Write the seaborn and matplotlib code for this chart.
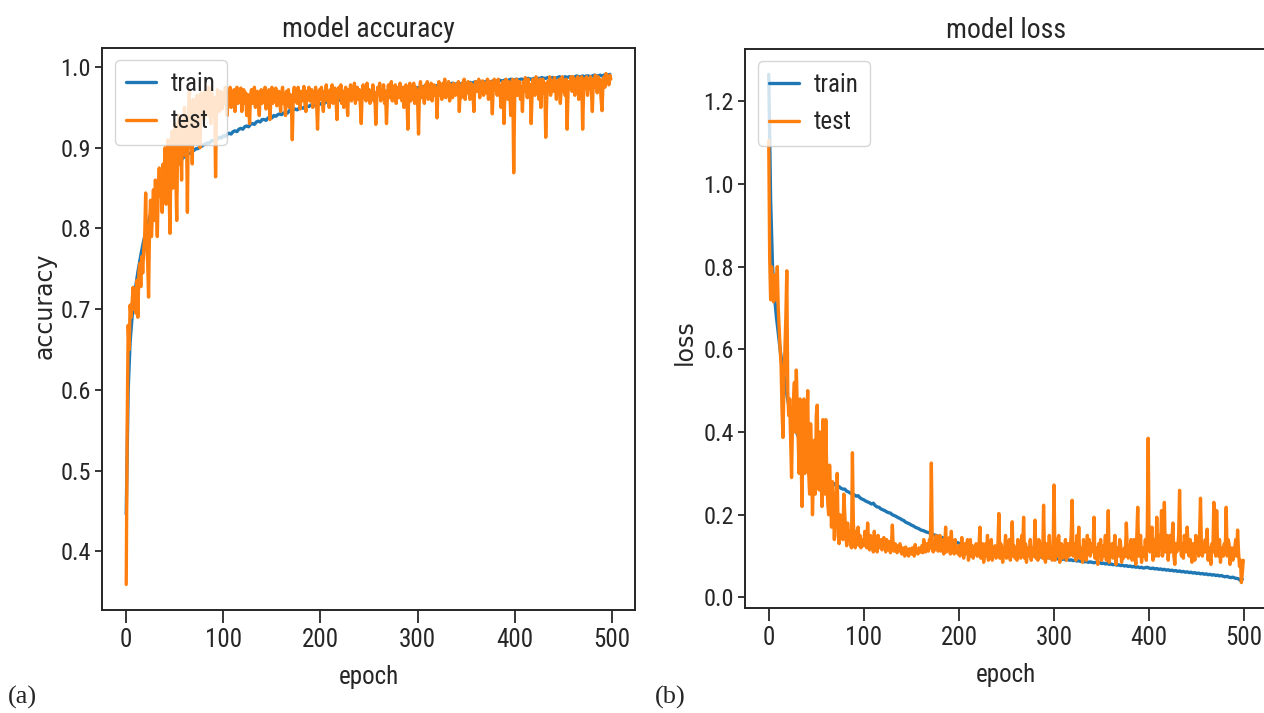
import matplotlib
matplotlib.use("Agg")
import matplotlib.pyplot as plt
import pandas as pd
import seaborn as sns

# Training history: train curves logged every second epoch, test curves every epoch
epochs_train = list(range(0, 500, 2))
epochs_test = list(range(0, 500))

acc_train = [
    0.446, 0.600, 0.660, 0.690, 0.712, 0.730, 0.746, 0.760, 0.773, 0.785,
    0.795, 0.806, 0.813, 0.823, 0.829, 0.838, 0.842, 0.849, 0.853, 0.858,
    0.861, 0.866, 0.868, 0.872, 0.874, 0.878, 0.879, 0.883, 0.884, 0.887,
    0.889, 0.890, 0.893, 0.893, 0.896, 0.897, 0.899, 0.899, 0.902, 0.902,
    0.904, 0.905, 0.906, 0.906, 0.909, 0.908, 0.911, 0.911, 0.913, 0.912,
    0.915, 0.914, 0.917, 0.918, 0.917, 0.920, 0.921, 0.920, 0.923, 0.924,
    0.923, 0.926, 0.927, 0.926, 0.929, 0.930, 0.929, 0.932, 0.933, 0.932,
    0.935, 0.935, 0.934, 0.937, 0.938, 0.937, 0.940, 0.939, 0.941, 0.942,
    0.941, 0.943, 0.944, 0.943, 0.946, 0.945, 0.947, 0.948, 0.947, 0.949,
    0.950, 0.949, 0.951, 0.952, 0.951, 0.953, 0.953, 0.952, 0.954, 0.955,
    0.954, 0.956, 0.955, 0.957, 0.957, 0.956, 0.958, 0.959, 0.958, 0.960,
    0.959, 0.960, 0.961, 0.960, 0.962, 0.961, 0.963, 0.962, 0.964, 0.963,
    0.964, 0.965, 0.964, 0.966, 0.965, 0.966, 0.967, 0.966, 0.968, 0.967,
    0.968, 0.969, 0.968, 0.969, 0.970, 0.969, 0.970, 0.971, 0.970, 0.971,
    0.972, 0.971, 0.972, 0.973, 0.972, 0.973, 0.974, 0.973, 0.974, 0.975,
    0.974, 0.975, 0.974, 0.976, 0.975, 0.976, 0.977, 0.976, 0.977, 0.976,
    0.977, 0.978, 0.977, 0.978, 0.979, 0.978, 0.978, 0.979, 0.980, 0.979,
    0.979, 0.980, 0.979, 0.980, 0.981, 0.980, 0.980, 0.981, 0.980, 0.981,
    0.982, 0.981, 0.981, 0.982, 0.981, 0.982, 0.983, 0.982, 0.982, 0.983,
    0.982, 0.983, 0.984, 0.983, 0.983, 0.984, 0.983, 0.984, 0.985, 0.984,
    0.984, 0.985, 0.984, 0.985, 0.985, 0.984, 0.985, 0.986, 0.985, 0.985,
    0.986, 0.985, 0.986, 0.986, 0.987, 0.986, 0.986, 0.987, 0.986, 0.987,
    0.987, 0.986, 0.987, 0.988, 0.987, 0.987, 0.988, 0.987, 0.988, 0.988,
    0.987, 0.988, 0.989, 0.988, 0.988, 0.989, 0.988, 0.989, 0.989, 0.988,
    0.989, 0.990, 0.989, 0.989, 0.990, 0.989, 0.990, 0.991, 0.990, 0.991,
]

acc_test = [
    0.359, 0.560, 0.680, 0.650, 0.705, 0.690, 0.707, 0.727, 0.700, 0.718,
    0.695, 0.736, 0.690, 0.745, 0.757, 0.728, 0.765, 0.745, 0.773, 0.790,
    0.844, 0.780, 0.760, 0.715, 0.800, 0.835, 0.790, 0.820, 0.848, 0.810,
    0.860, 0.830, 0.790, 0.850, 0.875, 0.840, 0.862, 0.820, 0.880, 0.850,
    0.900, 0.830, 0.870, 0.910, 0.860, 0.794, 0.880, 0.920, 0.850, 0.895,
    0.930, 0.870, 0.810, 0.905, 0.940, 0.880, 0.915, 0.860, 0.935, 0.900,
    0.950, 0.890, 0.925, 0.820, 0.940, 0.969, 0.900, 0.945, 0.880, 0.960,
    0.920, 0.955, 0.905, 0.965, 0.935, 0.950, 0.900, 0.968, 0.940, 0.960,
    0.935, 0.970, 0.950, 0.965, 0.940, 0.975, 0.955, 0.930, 0.968, 0.950,
    0.940, 0.962, 0.864, 0.950, 0.972, 0.958, 0.945, 0.970, 0.960, 0.948,
    0.968, 0.955, 0.975, 0.960, 0.940, 0.970, 0.962, 0.975, 0.950, 0.966,
    0.958, 0.972, 0.945, 0.965, 0.975, 0.955, 0.968, 0.960, 0.974, 0.945,
    0.962, 0.972, 0.955, 0.968, 0.940, 0.966, 0.958, 0.930, 0.965, 0.972,
    0.955, 0.968, 0.975, 0.950, 0.962, 0.970, 0.958, 0.940, 0.968, 0.972,
    0.955, 0.970, 0.962, 0.975, 0.948, 0.966, 0.958, 0.972, 0.935, 0.962,
    0.975, 0.955, 0.968, 0.960, 0.974, 0.952, 0.966, 0.970, 0.958, 0.945,
    0.968, 0.975, 0.955, 0.965, 0.940, 0.970, 0.960, 0.972, 0.950, 0.966,
    0.958, 0.910, 0.962, 0.975, 0.958, 0.968, 0.955, 0.975, 0.962, 0.948,
    0.970, 0.958, 0.968, 0.976, 0.955, 0.945, 0.970, 0.962, 0.975, 0.958,
    0.966, 0.972, 0.950, 0.968, 0.960, 0.975, 0.955, 0.923, 0.965, 0.972,
    0.960, 0.975, 0.958, 0.945, 0.970, 0.965, 0.978, 0.958, 0.968, 0.950,
    0.972, 0.962, 0.978, 0.955, 0.966, 0.974, 0.960, 0.935, 0.970, 0.975,
    0.962, 0.978, 0.955, 0.970, 0.950, 0.968, 0.975, 0.962, 0.940, 0.972,
    0.965, 0.978, 0.958, 0.970, 0.962, 0.980, 0.955, 0.968, 0.975, 0.960,
    0.972, 0.955, 0.930, 0.968, 0.978, 0.962, 0.975, 0.958, 0.980, 0.965,
    0.972, 0.955, 0.970, 0.962, 0.978, 0.958, 0.968, 0.929, 0.962, 0.975,
    0.968, 0.980, 0.958, 0.972, 0.962, 0.978, 0.955, 0.970, 0.930, 0.965,
    0.978, 0.962, 0.972, 0.982, 0.958, 0.970, 0.965, 0.978, 0.955, 0.972,
    0.975, 0.962, 0.980, 0.968, 0.958, 0.975, 0.950, 0.970, 0.978, 0.962,
    0.923, 0.968, 0.980, 0.958, 0.972, 0.965, 0.980, 0.955, 0.975, 0.968,
    0.960, 0.917, 0.970, 0.982, 0.962, 0.975, 0.968, 0.955, 0.978, 0.970,
    0.982, 0.960, 0.975, 0.965, 0.980, 0.958, 0.972, 0.978, 0.965, 0.975,
    0.937, 0.970, 0.982, 0.965, 0.975, 0.960, 0.980, 0.970, 0.985, 0.962,
    0.975, 0.968, 0.982, 0.958, 0.978, 0.970, 0.962, 0.980, 0.972, 0.965,
    0.978, 0.968, 0.982, 0.945, 0.975, 0.962, 0.980, 0.970, 0.985, 0.960,
    0.978, 0.968, 0.982, 0.972, 0.960, 0.980, 0.975, 0.968, 0.945, 0.978,
    0.982, 0.970, 0.975, 0.985, 0.962, 0.978, 0.970, 0.983, 0.965, 0.975,
    0.980, 0.968, 0.985, 0.960, 0.975, 0.982, 0.970, 0.942, 0.978, 0.985,
    0.972, 0.980, 0.965, 0.985, 0.975, 0.968, 0.950, 0.978, 0.982, 0.930,
    0.970, 0.985, 0.975, 0.960, 0.982, 0.968, 0.940, 0.978, 0.985, 0.869,
    0.960, 0.978, 0.985, 0.965, 0.975, 0.982, 0.960, 0.975, 0.945, 0.982,
    0.970, 0.987, 0.975, 0.962, 0.985, 0.970, 0.978, 0.930, 0.968, 0.985,
    0.975, 0.965, 0.988, 0.972, 0.980, 0.960, 0.985, 0.950, 0.975, 0.985,
    0.968, 0.980, 0.913, 0.960, 0.982, 0.975, 0.988, 0.965, 0.978, 0.983,
    0.970, 0.987, 0.975, 0.960, 0.982, 0.978, 0.985, 0.955, 0.975, 0.988,
    0.970, 0.982, 0.965, 0.985, 0.923, 0.970, 0.982, 0.978, 0.988, 0.970,
    0.988, 0.975, 0.965, 0.985, 0.978, 0.988, 0.960, 0.982, 0.975, 0.988,
    0.923, 0.970, 0.985, 0.978, 0.988, 0.965, 0.982, 0.975, 0.988, 0.970,
    0.945, 0.985, 0.975, 0.990, 0.982, 0.968, 0.988, 0.978, 0.985, 0.960,
    0.946, 0.982, 0.988, 0.975, 0.992, 0.980, 0.988, 0.978, 0.990, 0.985,
]

loss_train = [
    1.265, 0.960, 0.800, 0.730, 0.680, 0.640, 0.600, 0.565, 0.535, 0.505,
    0.478, 0.455, 0.437, 0.420, 0.408, 0.395, 0.385, 0.375, 0.366, 0.358,
    0.350, 0.342, 0.336, 0.330, 0.322, 0.316, 0.310, 0.305, 0.300, 0.296,
    0.290, 0.287, 0.282, 0.279, 0.276, 0.272, 0.270, 0.268, 0.264, 0.262,
    0.262, 0.257, 0.255, 0.252, 0.250, 0.248, 0.245, 0.246, 0.241, 0.238,
    0.236, 0.233, 0.231, 0.229, 0.226, 0.228, 0.222, 0.219, 0.218, 0.214,
    0.212, 0.210, 0.207, 0.205, 0.204, 0.200, 0.198, 0.196, 0.193, 0.191,
    0.188, 0.186, 0.182, 0.180, 0.178, 0.175, 0.173, 0.170, 0.168, 0.166,
    0.163, 0.162, 0.160, 0.158, 0.157, 0.155, 0.153, 0.151, 0.150, 0.148,
    0.146, 0.145, 0.143, 0.142, 0.140, 0.139, 0.137, 0.136, 0.134, 0.133,
    0.131, 0.130, 0.129, 0.127, 0.126, 0.125, 0.124, 0.123, 0.122, 0.121,
    0.120, 0.121, 0.119, 0.118, 0.117, 0.118, 0.116, 0.115, 0.114, 0.115,
    0.113, 0.112, 0.113, 0.111, 0.110, 0.111, 0.109, 0.108, 0.109, 0.107,
    0.106, 0.107, 0.105, 0.104, 0.105, 0.103, 0.102, 0.103, 0.101, 0.100,
    0.101, 0.099, 0.100, 0.098, 0.097, 0.098, 0.096, 0.097, 0.095, 0.096,
    0.094, 0.095, 0.093, 0.094, 0.092, 0.093, 0.091, 0.092, 0.090, 0.091,
    0.089, 0.090, 0.088, 0.089, 0.087, 0.088, 0.086, 0.087, 0.085, 0.086,
    0.085, 0.084, 0.085, 0.083, 0.084, 0.082, 0.083, 0.081, 0.082, 0.080,
    0.081, 0.079, 0.080, 0.078, 0.079, 0.077, 0.078, 0.076, 0.077, 0.075,
    0.076, 0.074, 0.075, 0.073, 0.074, 0.072, 0.073, 0.071, 0.072, 0.073,
    0.071, 0.070, 0.071, 0.069, 0.070, 0.068, 0.069, 0.067, 0.068, 0.066,
    0.067, 0.065, 0.066, 0.064, 0.065, 0.063, 0.064, 0.062, 0.063, 0.061,
    0.062, 0.060, 0.061, 0.059, 0.060, 0.058, 0.059, 0.057, 0.058, 0.056,
    0.057, 0.055, 0.056, 0.054, 0.055, 0.053, 0.054, 0.052, 0.053, 0.051,
    0.050, 0.051, 0.049, 0.048, 0.049, 0.047, 0.046, 0.045, 0.041, 0.044,
]

loss_test = [
    1.105, 0.820, 0.720, 0.800, 0.740, 0.715, 0.780, 0.760, 0.720, 0.800,
    0.700, 0.650, 0.600, 0.560, 0.450, 0.387, 0.520, 0.600, 0.680, 0.790,
    0.500, 0.440, 0.480, 0.380, 0.290, 0.420, 0.480, 0.520, 0.400, 0.550,
    0.460, 0.380, 0.300, 0.480, 0.350, 0.220, 0.400, 0.480, 0.300, 0.350,
    0.420, 0.500, 0.300, 0.250, 0.420, 0.350, 0.200, 0.300, 0.380, 0.250,
    0.440, 0.465, 0.300, 0.260, 0.400, 0.300, 0.220, 0.430, 0.350, 0.250,
    0.430, 0.300, 0.230, 0.200, 0.320, 0.250, 0.170, 0.280, 0.250, 0.140,
    0.220, 0.180, 0.300, 0.150, 0.130, 0.200, 0.160, 0.180, 0.140, 0.250,
    0.200, 0.150, 0.125, 0.180, 0.140, 0.160, 0.130, 0.120, 0.350, 0.180,
    0.140, 0.120, 0.160, 0.130, 0.170, 0.125, 0.150, 0.120, 0.140, 0.130,
    0.125, 0.160, 0.135, 0.120, 0.180, 0.130, 0.115, 0.150, 0.125, 0.145,
    0.110, 0.160, 0.125, 0.135, 0.110, 0.150, 0.120, 0.130, 0.140, 0.115,
    0.120, 0.145, 0.130, 0.110, 0.140, 0.125, 0.115, 0.135, 0.108, 0.125,
    0.175, 0.115, 0.112, 0.130, 0.120, 0.108, 0.125, 0.115, 0.130, 0.110,
    0.105, 0.120, 0.115, 0.100, 0.122, 0.108, 0.112, 0.100, 0.118, 0.110,
    0.105, 0.120, 0.112, 0.100, 0.128, 0.108, 0.115, 0.105, 0.120, 0.110,
    0.110, 0.125, 0.108, 0.140, 0.115, 0.110, 0.130, 0.120, 0.112, 0.140,
    0.120, 0.325, 0.120, 0.110, 0.135, 0.115, 0.150, 0.120, 0.112, 0.130,
    0.150, 0.112, 0.125, 0.140, 0.105, 0.120, 0.170, 0.110, 0.130, 0.115,
    0.145, 0.105, 0.160, 0.115, 0.125, 0.105, 0.140, 0.110, 0.120, 0.105,
    0.125, 0.100, 0.115, 0.145, 0.110, 0.095, 0.130, 0.105, 0.120, 0.140,
    0.090, 0.115, 0.140, 0.100, 0.125, 0.095, 0.120, 0.105, 0.130, 0.100,
    0.100, 0.120, 0.170, 0.095, 0.115, 0.130, 0.085, 0.110, 0.130, 0.100,
    0.150, 0.090, 0.120, 0.105, 0.140, 0.090, 0.115, 0.100, 0.125, 0.095,
    0.100, 0.130, 0.203, 0.095, 0.130, 0.110, 0.085, 0.120, 0.110, 0.150,
    0.095, 0.130, 0.100, 0.140, 0.090, 0.120, 0.183, 0.100, 0.125, 0.095,
    0.120, 0.090, 0.140, 0.100, 0.130, 0.095, 0.150, 0.110, 0.194, 0.095,
    0.130, 0.085, 0.120, 0.110, 0.100, 0.140, 0.090, 0.120, 0.100, 0.110,
    0.187, 0.095, 0.120, 0.090, 0.140, 0.110, 0.100, 0.130, 0.095, 0.223,
    0.100, 0.085, 0.130, 0.110, 0.095, 0.150, 0.100, 0.120, 0.090, 0.115,
    0.272, 0.090, 0.120, 0.100, 0.140, 0.150, 0.085, 0.110, 0.130, 0.095,
    0.120, 0.100, 0.140, 0.090, 0.110, 0.130, 0.100, 0.120, 0.150, 0.235,
    0.100, 0.130, 0.120, 0.090, 0.150, 0.110, 0.170, 0.095, 0.120, 0.110,
    0.085, 0.140, 0.100, 0.120, 0.090, 0.150, 0.110, 0.140, 0.100, 0.120,
    0.130, 0.110, 0.194, 0.095, 0.120, 0.100, 0.080, 0.130, 0.110, 0.140,
    0.090, 0.125, 0.100, 0.115, 0.150, 0.090, 0.120, 0.210, 0.085, 0.110,
    0.110, 0.130, 0.095, 0.120, 0.150, 0.080, 0.110, 0.120, 0.100, 0.140,
    0.130, 0.085, 0.110, 0.095, 0.120, 0.100, 0.180, 0.120, 0.095, 0.110,
    0.120, 0.140, 0.090, 0.115, 0.140, 0.100, 0.080, 0.150, 0.218, 0.100,
    0.120, 0.150, 0.085, 0.110, 0.120, 0.100, 0.140, 0.090, 0.160, 0.385,
    0.120, 0.110, 0.150, 0.170, 0.090, 0.120, 0.140, 0.100, 0.194, 0.110,
    0.100, 0.150, 0.120, 0.210, 0.100, 0.130, 0.230, 0.110, 0.120, 0.150,
    0.090, 0.130, 0.150, 0.110, 0.140, 0.180, 0.100, 0.080, 0.130, 0.110,
    0.120, 0.150, 0.259, 0.120, 0.100, 0.130, 0.095, 0.150, 0.120, 0.110,
    0.170, 0.120, 0.100, 0.140, 0.110, 0.085, 0.130, 0.120, 0.090, 0.150,
    0.110, 0.130, 0.100, 0.150, 0.240, 0.120, 0.100, 0.130, 0.110, 0.140,
    0.110, 0.165, 0.090, 0.120, 0.100, 0.080, 0.130, 0.110, 0.230, 0.150,
    0.100, 0.210, 0.120, 0.100, 0.140, 0.085, 0.120, 0.110, 0.100, 0.130,
    0.110, 0.218, 0.100, 0.140, 0.130, 0.080, 0.110, 0.120, 0.090, 0.100,
    0.120, 0.140, 0.100, 0.163, 0.110, 0.075, 0.090, 0.036, 0.060, 0.090,
]

series_names = ["train", "test"]
series_colors = ["#1f77b4", "#ff7f0e"]
panel_titles = ["model accuracy", "model loss"]
panel_ylabels = ["accuracy", "loss"]
panel_tags = ["(a)", "(b)"]

sns.set_style("ticks")
plt.rcParams["font.family"] = ["Roboto Condensed", "Liberation Sans Narrow", "DejaVu Sans"]
plt.rcParams["font.stretch"] = "condensed"
plt.rcParams["axes.edgecolor"] = "#262626"
plt.rcParams["axes.linewidth"] = 1.4
plt.rcParams["xtick.color"] = "#262626"
plt.rcParams["ytick.color"] = "#262626"
plt.rcParams["text.color"] = "#262626"
plt.rcParams["axes.labelcolor"] = "#262626"

fig = plt.figure(figsize=(12.64, 7.13), dpi=100)
ax_acc = fig.add_axes([0.0807, 0.1445, 0.4217, 0.7882])
ax_loss = fig.add_axes([0.5894, 0.1473, 0.4130, 0.7840])


def history_frame(train, test):
    return pd.DataFrame({
        "epoch": epochs_train + epochs_test,
        "value": train + test,
        "series": [series_names[0]] * len(train) + [series_names[1]] * len(test),
    })


panels = [
    (ax_acc, acc_train, acc_test, (-0.085, 0.541)),
    (ax_loss, loss_train, loss_test, (-0.092, 0.475)),
]

for i, (ax, train, test, label_xy) in enumerate(panels):
    sns.lineplot(
        data=history_frame(train, test), x="epoch", y="value",
        hue="series", hue_order=series_names, palette=series_colors,
        linewidth=2.4, estimator=None, sort=False, ax=ax,
    )
    ax.set_title(panel_titles[i], fontsize=20, pad=8)
    ax.set_xlabel("epoch", fontsize=18, labelpad=9)
    ax.set_ylabel(panel_ylabels[i], fontsize=17,
                  fontfamily="DejaVu Sans", fontstretch="normal")
    ax.yaxis.set_label_coords(*label_xy)
    ax.set_xticks([0, 100, 200, 300, 400, 500])
    ax.tick_params(axis="x", length=9, width=1.3, labelsize=18, pad=4)
    ax.tick_params(axis="y", length=5, width=1.3, labelsize=17.5, pad=3)
    ax.legend(loc="upper left", fontsize=18, handlelength=1.2,
              handletextpad=0.6, labelspacing=0.55, borderaxespad=0.5,
              borderpad=0.45)

fig.text(0.006, 0.0224, panel_tags[0], fontsize=19, va="center",
         fontfamily="Liberation Serif", fontstretch="normal")
fig.text(0.518, 0.0224, panel_tags[1], fontsize=19, va="center",
         fontfamily="Liberation Serif", fontstretch="normal")

fig.savefig("out.png", dpi=100)
